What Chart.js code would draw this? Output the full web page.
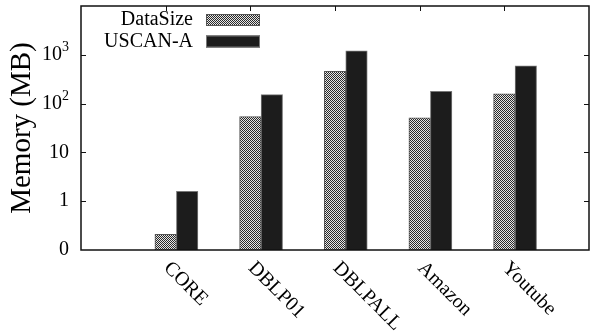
<!DOCTYPE html>
<html>
<head>
<meta charset="utf-8">
<script src="https://cdn.jsdelivr.net/npm/chart.js@4/dist/chart.umd.min.js"></script>
<style>
    html, body { margin: 0; padding: 0; background: #fff; }
</style>
</head>
<body>
<canvas id="memory-chart" width="598" height="336"></canvas>
<script>
// Values (MB, log scale)
const categories = ['CORE', 'DBLP01', 'DBLPALL', 'Amazon', 'Youtube'];
const seriesNames = ['DataSize', 'USCAN-A'];
const dataSizeValues = [0.21, 54, 457, 51, 158];
const uscanValues = [1.6, 153, 1210, 178, 597];
const yTickValues = [0.1, 1, 10, 100, 1000];
const yTickLabels = ['0', '1', '10', '10^2', '10^3'];

const serif = '"Liberation Serif", "DejaVu Serif", serif';

// Checkered fill like the gnuplot pattern
function makeChecker() {
    const c = document.createElement('canvas');
    c.width = 2;
    c.height = 2;
    const p = c.getContext('2d');
    p.fillStyle = '#e6e6e6';
    p.fillRect(0, 0, 2, 2);
    p.fillStyle = '#2a2a2a';
    p.fillRect(0, 0, 1, 1);
    p.fillRect(1, 1, 1, 1);
    return p.createPattern(c, 'repeat');
}

// Empty slot on each side of the categories
const xLabels = [''].concat(categories, ['']);
const pad = arr => [null].concat(arr, [null]);

// Draws the frame, inward ticks, tick labels and the legend
const paperPlugin = {
    id: 'paper',
    afterDraw(chart) {
        const ctx = chart.ctx;
        const a = chart.chartArea;
        const x = chart.scales.x;
        const y = chart.scales.y;

        function line(x1, y1, x2, y2) {
            ctx.beginPath();
            ctx.moveTo(x1, y1);
            ctx.lineTo(x2, y2);
            ctx.stroke();
        }

        ctx.save();
        ctx.strokeStyle = '#111';
        ctx.lineWidth = 1.5;
        ctx.strokeRect(a.left, a.top, a.right - a.left, a.bottom - a.top);

        // y ticks with superscript powers
        ctx.lineWidth = 1;
        ctx.fillStyle = '#000';
        ctx.textBaseline = 'middle';
        const labelRight = a.left - 12;
        yTickValues.forEach((v, i) => {
            const py = y.getPixelForValue(v);
            if (v > y.min) {
                const ly = Math.round(py) + 0.5;
                line(a.left, ly, a.left + 5, ly);
                line(a.right, ly, a.right - 5, ly);
            }
            const parts = yTickLabels[i].split('^');
            let right = labelRight;
            if (parts.length > 1) {
                ctx.font = '14px ' + serif;
                const ew = ctx.measureText(parts[1]).width;
                ctx.textAlign = 'left';
                ctx.fillText(parts[1], right - ew, py - 7);
                right -= ew;
            }
            ctx.font = '20px ' + serif;
            ctx.textAlign = 'right';
            ctx.fillText(parts[0], right, py);
        });

        // slanted category labels
        ctx.font = '20px ' + serif;
        ctx.textAlign = 'left';
        categories.forEach((name, i) => {
            const px = x.getPixelForValue(i + 1);
            line(Math.round(px) + 0.5, a.top, Math.round(px) + 0.5, a.top + 5);
            ctx.save();
            ctx.translate(px + 1, a.bottom + 15);
            ctx.rotate(Math.PI / 4);
            ctx.fillText(name, 0, 0);
            ctx.restore();
        });

        // Legend inside the plot, text to the left of the swatch
        ctx.textAlign = 'right';
        seriesNames.forEach((name, i) => {
            const ds = chart.data.datasets[i + 1];
            const rowY = a.top + 14 + i * 21.5;
            ctx.fillStyle = '#000';
            ctx.fillText(name, a.left + 112, rowY);
            ctx.fillStyle = ds.backgroundColor;
            ctx.fillRect(a.left + 125, rowY - 6, 54, 12);
            ctx.strokeStyle = ds.borderColor;
            ctx.strokeRect(a.left + 125.5, rowY - 5.5, 53, 11);
        });
        ctx.restore();
    }
};

const ctx = document.getElementById('memory-chart').getContext('2d');

new Chart(ctx, {
    type: 'bar',
    data: {
        labels: xLabels,
        datasets: [
            {
                // spacer so DataSize sits on the tick and USCAN-A to its right
                label: '',
                data: pad(categories.map(() => null)),
                backgroundColor: 'rgba(0,0,0,0)'
            },
            {
                label: seriesNames[0],
                data: pad(dataSizeValues),
                backgroundColor: makeChecker(),
                borderColor: '#555',
                borderWidth: 1
            },
            {
                label: seriesNames[1],
                data: pad(uscanValues),
                backgroundColor: '#1c1c1c',
                borderColor: '#777',
                borderWidth: 1
            }
        ]
    },
    options: {
        responsive: false,
        animation: false,
        barThickness: 21.5,
        layout: { padding: { top: 6, right: 9, left: 0, bottom: 0 } },
        plugins: {
            legend: { display: false },
            tooltip: { enabled: false }
        },
        scales: {
            x: {
                type: 'category',
                offset: false,
                grid: { display: false, drawTicks: false },
                border: { display: false },
                ticks: { display: false },
                afterFit: s => {
                    s.height = 86;
                    s.paddingLeft = 0;
                    s.paddingRight = 0;
                }
            },
            y: {
                type: 'logarithmic',
                min: 0.1,
                max: 10000,
                afterBuildTicks: s => {
                    s.ticks = yTickValues.map(v => ({ value: v }));
                },
                ticks: { display: false },
                grid: { display: false, drawTicks: false },
                border: { display: false },
                title: {
                    display: true,
                    text: 'Memory (MB)',
                    font: { family: serif, size: 29 },
                    color: '#000',
                    padding: { top: 5, bottom: 0 }
                },
                afterFit: s => {
                    s.width = 81;
                    s.paddingTop = 0;
                    s.paddingBottom = 0;
                }
            }
        }
    },
    plugins: [paperPlugin]
});
</script>
</body>
</html>
